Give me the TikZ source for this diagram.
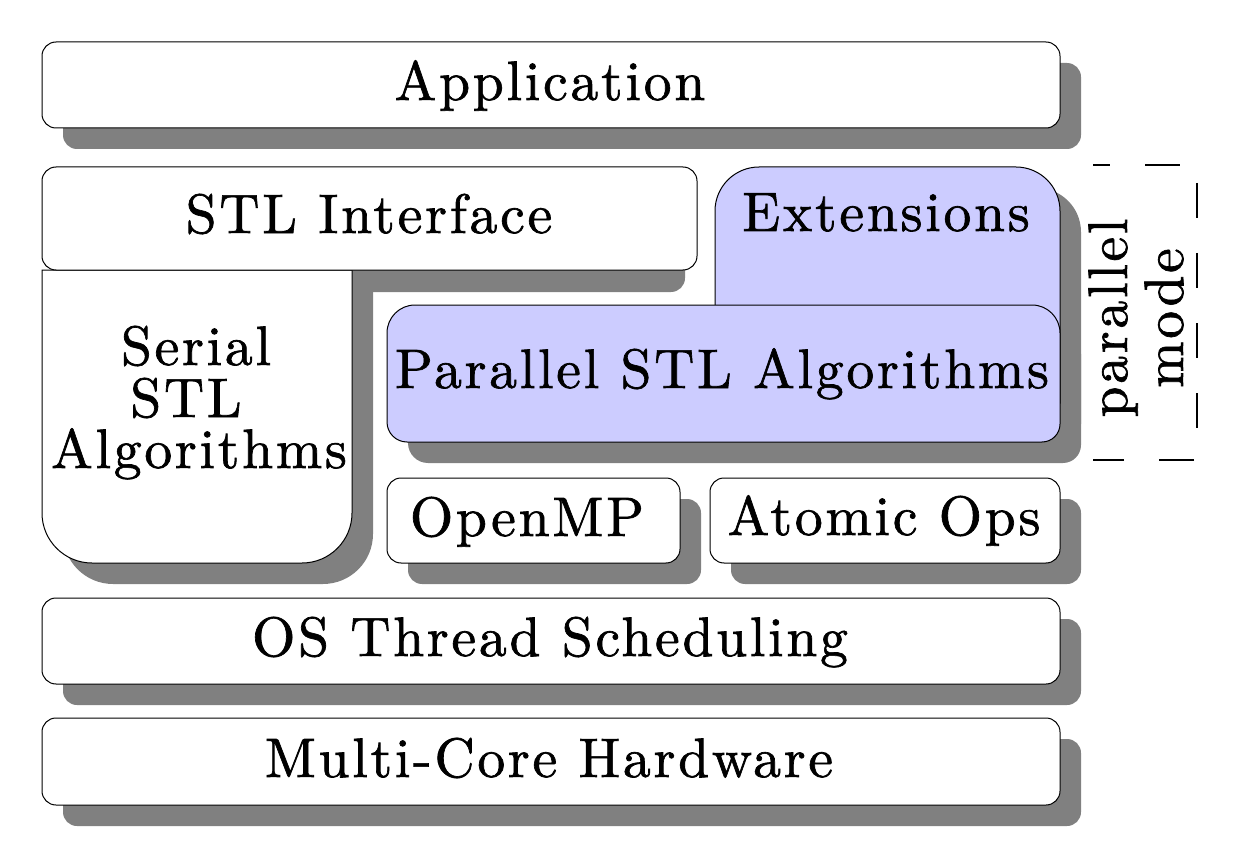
\documentclass[tikz,border=0pt]{standalone}
\usepackage{fontspec}
\newfontfamily\lmsp{lmroman10-regular.otf}[LetterSpace=5, FakeBold=1.2]
\definecolor{shgray}{RGB}{128,128,128}
\definecolor{pblue}{RGB}{204,204,255}
\newcommand\lblfont{\lmsp\fontsize{27.8}{26}\selectfont}
\tikzset{
  box/.style={draw=black, line width=0.5pt, fill=white},
  bluebox/.style={draw=black, line width=0.5pt, fill=pblue},
  shadow/.style={fill=shgray, draw=none, xshift=10.5pt, yshift=-10.5pt},
  lbl/.style={font=\lblfont, inner sep=0pt, anchor=base},
  dashbox/.style={draw=black, line width=1pt, dash pattern=on 17.5pt off 17.5pt, dash phase=9pt}
}
\def\pSerial{(42,573) -- (42,330) arc[start angle=180,end angle=270,radius=25pt] -- (302,280) arc[start angle=270,end angle=360,radius=25pt] -- (352,573) -- cycle}
\def\pExt{(715,440) -- (715,632) arc[start angle=180,end angle=90,radius=22pt] -- (1016,676) arc[start angle=90,end angle=0,radius=22pt] -- (1060,440) -- cycle}
\def\pPar{(407,401) -- (1042,401) arc[start angle=-90,end angle=0,radius=9pt] -- (1060,510) arc[start angle=0,end angle=90,radius=14pt] -- (415,538) arc[start angle=90,end angle=180,radius=14pt] -- (387,421) arc[start angle=180,end angle=270,radius=10pt] -- cycle}
\begin{document}
\begin{tikzpicture}[x=0.5pt,y=0.5pt]
\useasboundingbox (0,0) rectangle (1239,843);
% shadows
\fill[shadow, rounded corners=7pt] (42,715) rectangle (1060,801);
\fill[shgray, rounded corners=7pt] (63,551) rectangle (685,655);
\fill[shadow] \pSerial;
\fill[shadow] \pExt;
\fill[shadow] \pPar;
\fill[shadow, rounded corners=7pt] (387,280) rectangle (680,365);
\fill[shadow, rounded corners=7pt] (710,280) rectangle (1060,365);
\fill[shadow, rounded corners=7pt] (42,159) rectangle (1060,245);
\fill[shadow, rounded corners=7pt] (42,38) rectangle (1060,125);
% boxes
\draw[box, rounded corners=7pt] (42,715) rectangle (1060,801);
\draw[box] \pSerial;
\draw[box, rounded corners=7pt] (42,573) rectangle (697,676);
\draw[bluebox] \pExt;
\draw[bluebox] \pPar;
\draw[box, rounded corners=7pt] (387,280) rectangle (680,365);
\draw[box, rounded corners=7pt] (710,280) rectangle (1060,365);
\draw[box, rounded corners=7pt] (42,159) rectangle (1060,245);
\draw[box, rounded corners=7pt] (42,38) rectangle (1060,125);
% labels
\node[lbl] (app) at (550,743) {Application};
\node[lbl] (stli) at (369,610) {STL Interface};
\node[lbl] (ext) at (886,612) {Extensions};
\node[lbl] (ser1) at (196,478) {Serial};
\node[lbl] (ser2) at (186,426) {STL};
\node[lbl] (ser3) at (199,375) {Algorithms};
\node[lbl] (par) at (722,455) {Parallel STL Algorithms};
\node[lbl] (omp) at (527,307) {OpenMP};
\node[lbl] (atom) at (884,308) {Atomic Ops};
\node[lbl] (os) at (550,187) {OS Thread Scheduling};
\node[lbl] (mc) at (549,66) {Multi-Core Hardware};
\node[lbl, rotate=90] (pm1) at (1127,525) {parallel};
\node[lbl, rotate=90] (pm2) at (1183,525) {mode};
% dashed frame (top, right and bottom sides)
\draw[dashbox] (1093,678) -- (1197,678) -- (1197,383) -- (1093,383);
\end{tikzpicture}
\end{document}
